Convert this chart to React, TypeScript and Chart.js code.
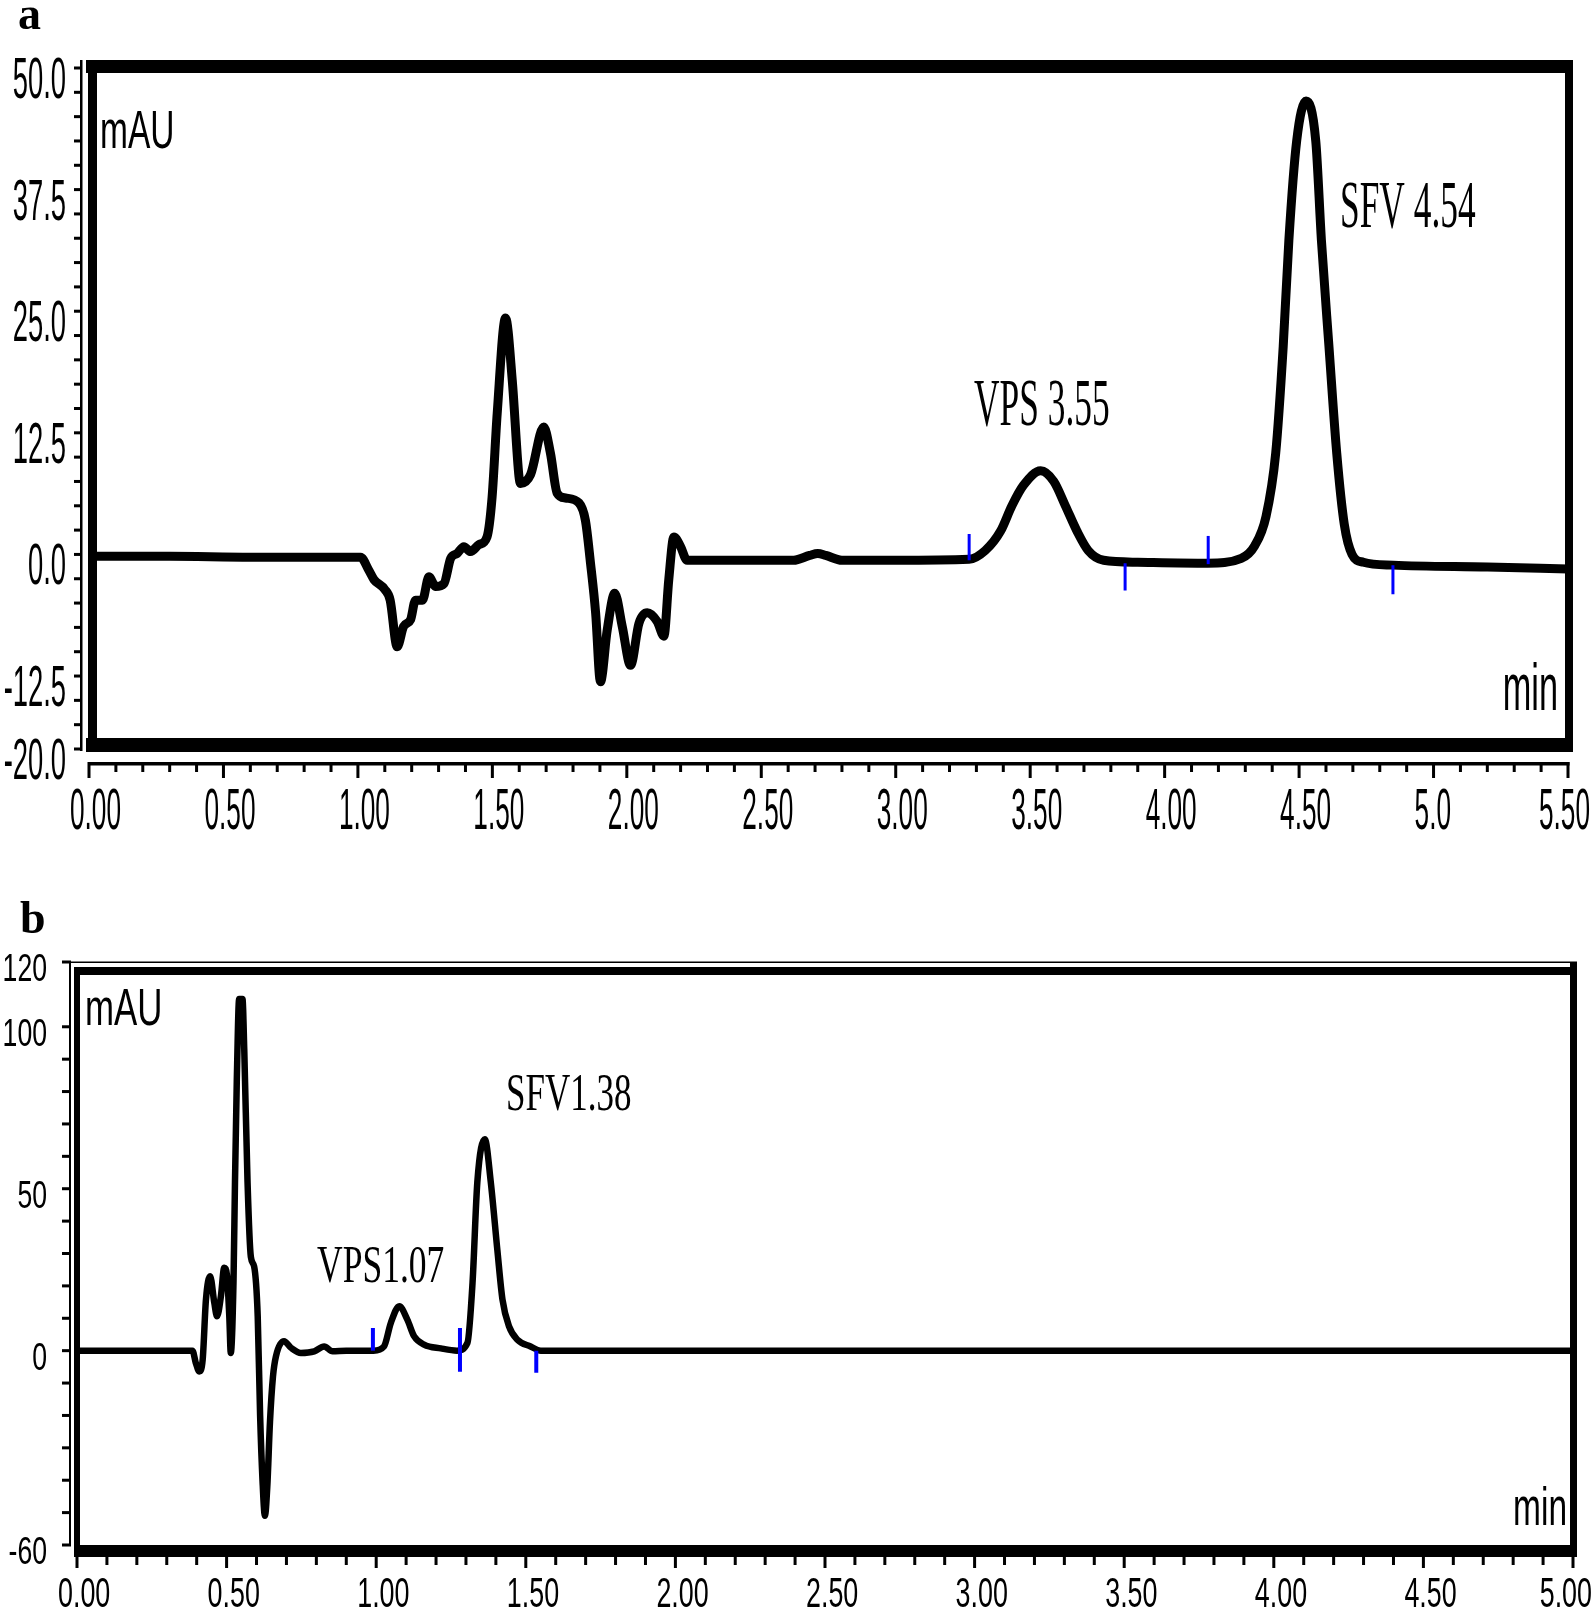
import React, { useEffect, useRef } from "react";
import { Chart, registerables } from "chart.js";

Chart.register(...registerables);

const SANS = "'Liberation Sans', Arial, sans-serif";
const SERIF = "'Liberation Serif', 'Times New Roman', serif";

// ---------------- Panel a ----------------
const timeA = [
  0.0, 0.3, 0.6, 0.9, 1.01, 1.04, 1.06, 1.1, 1.12, 1.146, 1.17, 1.196, 1.214, 1.24, 1.264, 1.289, 1.32,
  1.345, 1.369, 1.394, 1.419, 1.45, 1.48, 1.499, 1.518, 1.549, 1.574, 1.599, 1.605, 1.642, 1.691, 1.716,
  1.741, 1.772, 1.822, 1.846, 1.865, 1.884, 1.902, 1.927, 1.955, 1.983, 2.014, 2.045, 2.076, 2.113, 2.138,
  2.156, 2.175, 2.2, 2.224, 2.4, 2.62, 2.68, 2.71, 2.74, 2.8, 3.0, 3.273, 3.333, 3.39, 3.432, 3.475, 3.539,
  3.588, 3.631, 3.674, 3.716, 3.773, 3.9, 4.16, 4.285, 4.335, 4.377, 4.413, 4.441, 4.462, 4.491, 4.526,
  4.562, 4.583, 4.611, 4.64, 4.668, 4.697, 4.739, 4.85, 5.2, 5.5,
];
const signalA = [
  -0.2, -0.2, -0.3, -0.3, -0.3, -1.6, -2.6, -3.6, -4.7, -9.5, -7.4, -6.7, -4.7, -4.7, -2.3, -3.3, -3.0,
  -0.4, 0.1, 0.8, 0.3, 1.0, 1.8, 5.9, 14.5, 24.3, 17.9, 8.0, 7.3, 8.2, 13.1, 10.4,
  6.3, 5.8, 5.3, 3.5, -0.9, -6.0, -13.1, -7.8, -4.0, -7.4, -11.4, -7.1, -6.0, -6.9, -8.4,
  -2.6, 1.8, 0.8, -0.6, -0.6, -0.6, -0.1, 0.1, -0.1, -0.6, -0.6, -0.5, 0.4, 2.4, 5.0, 7.1, 8.6,
  7.5, 5.0, 2.4, 0.4, -0.6, -0.8, -0.9, -0.4, 0.9, 3.9, 10.4, 21.4, 32.3, 42.5, 46.6,
  42.5, 32.3, 21.4, 10.4, 3.1, 0.0, -0.8, -1.1, -1.3, -1.5,
];
const markerTimeA = [3.273, 3.853, 4.162, 4.849];
const markerFromA = [-0.6, -0.9, -1.0, -1.1];
const markerToA = [2.1, -3.7, 1.9, -4.1];
const yTickValuesA = [50, 37.5, 25, 12.5, 0, -12.5, -20];
const yTickLabelsA = ["50.0", "37.5", "25.0", "12.5", "0.0", "-12.5", "-20.0"];
const xTickValuesA = [0, 0.5, 1, 1.5, 2, 2.5, 3, 3.5, 4, 4.5, 5, 5.5];
const xTickLabelsA = ["0.00", "0.50", "1.00", "1.50", "2.00", "2.50", "3.00", "3.50", "4.00", "4.50", "5.0", "5.50"];
const peakLabelsA = ["VPS 3.55", "SFV 4.54"];

// ---------------- Panel b ----------------
const timeB = [
  0.0, 0.3, 0.386, 0.397, 0.409, 0.42, 0.431, 0.445, 0.459, 0.468, 0.481, 0.492, 0.501, 0.509, 0.514,
  0.523, 0.528, 0.534, 0.542, 0.553, 0.559, 0.57, 0.581, 0.592, 0.604, 0.612, 0.62, 0.628, 0.636, 0.645,
  0.655, 0.665, 0.692, 0.715, 0.748, 0.793, 0.826, 0.854, 0.9, 0.991, 1.026, 1.049, 1.077, 1.104, 1.127,
  1.16, 1.216, 1.27, 1.305, 1.322, 1.338, 1.363, 1.383, 1.405, 1.422, 1.444, 1.472, 1.516, 1.55, 2.5, 5.0,
];
const signalB = [
  0, 0, 0, -3.8, -6.4, -2.8, 15.8, 23, 14.7, 10.6, 16.8, 25.6, 23.5, 10.6, -0.7,
  21, 52, 83, 108.6, 108.6, 93, 52, 29, 26, 10.6, -20, -40, -51, -42, -22,
  -8, -1.7, 2.9, 0.9, -0.7, -0.2, 1.3, -0.2, 0, 0, 1.3, 8.6, 13.7, 9.6, 4.4,
  1.9, 0.7, 0, 2.4, 21, 52, 65.3, 52, 31, 15.8, 7.5, 3.4, 1.3, 0, 0, 0,
];
const markerTimeB = [0.989, 1.28, 1.535];
const markerFromB = [0, 7, 0];
const markerToB = [7, -6.5, -6.8];
const yTickValuesB = [120, 100, 50, 0, -60];
const yTickLabelsB = ["120", "100", "50", "0", "-60"];
const xTickValuesB = [0, 0.5, 1, 1.5, 2, 2.5, 3, 3.5, 4, 4.5, 5];
const xTickLabelsB = ["0.00", "0.50", "1.00", "1.50", "2.00", "2.50", "3.00", "3.50", "4.00", "4.50", "5.00"];
const peakLabelsB = ["VPS1.07", "SFV1.38"];

// ---------------- helpers ----------------
function drawText(
  ctx: CanvasRenderingContext2D,
  text: string,
  x: number,
  y: number,
  font: string,
  sx: number,
  align: "left" | "right" | "center",
  maxRight?: number
) {
  ctx.save();
  ctx.font = font;
  const w = ctx.measureText(text).width * sx;
  let left = align === "left" ? x : align === "right" ? x - w : x - w / 2;
  if (maxRight !== undefined && left + w > maxRight) left = maxRight - w;
  ctx.translate(left, y);
  ctx.scale(sx, 1);
  ctx.textAlign = "left";
  ctx.textBaseline = "alphabetic";
  ctx.fillStyle = "#000";
  ctx.fillText(text, 0, 0);
  ctx.restore();
}

function decorA(chart: any) {
  const ctx: CanvasRenderingContext2D = chart.ctx;
  const xs = chart.scales.x;
  const ys = chart.scales.y;
  ctx.save();
  ctx.fillStyle = "#000";
  // frame
  ctx.fillRect(86, 60, 1573 - 86, 13);
  ctx.fillRect(86, 738, 1573 - 86, 14);
  ctx.fillRect(88, 60, 9, 692);
  ctx.fillRect(1565, 60, 8, 692);
  // y axis
  ctx.fillRect(80, 60, 2.5, 691);
  for (let k = 0; k <= 28; k++) {
    const v = -20 + k * 2.5;
    const py = ys.getPixelForValue(v);
    ctx.fillRect(74, py - 1.5, 8, 3);
  }
  // x axis
  ctx.fillRect(xs.left, 762, xs.right - xs.left + 1.5, 3.5);
  for (let k = 0; k <= 55; k++) {
    const px = xs.getPixelForValue(k / 10);
    const major = k % 5 === 0;
    ctx.fillRect(px - 1.5, 762, 3, major ? 16 : 10);
  }
  ctx.restore();
  const tickFont = `57px ${SANS}`;
  yTickValuesA.forEach((v, i) => {
    drawText(ctx, yTickLabelsA[i], 66, ys.getPixelForValue(v) + 30, tickFont, 0.48, "right");
  });
  xTickValuesA.forEach((v, i) => {
    drawText(ctx, xTickLabelsA[i], xs.getPixelForValue(v) - 19, 829, tickFont, 0.46, "left", 1590);
  });
  drawText(ctx, "mAU", 100, 148, `54px ${SANS}`, 0.62, "left");
  drawText(ctx, "min", 1558, 710, `66px ${SANS}`, 0.52, "right");
  drawText(ctx, peakLabelsA[0], 974, 425, `68px ${SERIF}`, 0.52, "left");
  drawText(ctx, peakLabelsA[1], 1340, 227, `68px ${SERIF}`, 0.52, "left");
  drawText(ctx, "a", 18, 29, `bold 46px ${SERIF}`, 1, "left");
}

function decorB(chart: any) {
  const ctx: CanvasRenderingContext2D = chart.ctx;
  const xs = chart.scales.x;
  const ys = chart.scales.y;
  ctx.save();
  ctx.fillStyle = "#000";
  // frame
  ctx.fillRect(68, 111.5, 1577 - 68, 1.5);
  ctx.fillRect(74, 117, 1577 - 74, 8);
  ctx.fillRect(74, 117, 6, 707 - 117);
  ctx.fillRect(1570, 112, 7, 707 - 112);
  ctx.fillRect(74, 695, 1577 - 74, 12);
  // y axis
  ctx.fillRect(69, 112, 2, 584);
  const yTicks = [120];
  for (let v = 100; v >= -60; v -= 10) yTicks.push(v);
  yTicks.forEach((v) => {
    const py = ys.getPixelForValue(v);
    ctx.fillRect(62, py - 1.5, 9, 3);
  });
  // x ticks
  for (let k = 0; k <= 50; k++) {
    const px = xs.getPixelForValue(k / 10);
    const major = k % 5 === 0;
    ctx.fillRect(px - 1.5, 706, 3, major ? 12 : 9);
  }
  ctx.restore();
  yTickValuesB.forEach((v, i) => {
    drawText(ctx, yTickLabelsB[i], 47, ys.getPixelForValue(v) + 19, `38px ${SANS}`, 0.7, "right");
  });
  xTickValuesB.forEach((v, i) => {
    drawText(ctx, xTickLabelsB[i], xs.getPixelForValue(v) - 19, 757, `42px ${SANS}`, 0.64, "left", 1592);
  });
  drawText(ctx, "mAU", 85, 175, `52px ${SANS}`, 0.67, "left");
  drawText(ctx, "min", 1567, 675, `54px ${SANS}`, 0.62, "right");
  drawText(ctx, peakLabelsB[0], 317, 432, `53px ${SERIF}`, 0.67, "left");
  drawText(ctx, peakLabelsB[1], 506, 260, `53px ${SERIF}`, 0.66, "left");
  drawText(ctx, "b", 20, 83, `bold 46px ${SERIF}`, 1, "left");
}

type PanelOpts = {
  time: number[];
  signal: number[];
  markerTime: number[];
  markerFrom: number[];
  markerTo: number[];
  lineWidth: number;
  markerWidth: number;
  xMin: number;
  xMax: number;
  yMin: number;
  yMax: number;
  padding: { left: number; right: number; top: number; bottom: number };
  decor: (chart: any) => void;
};

function makeChart(canvas: HTMLCanvasElement, o: PanelOpts) {
  const trace = o.time.map((t, i) => ({ x: t, y: o.signal[i] }));
  const markers = o.markerTime.map((t, i) => ({
    data: [
      { x: t, y: o.markerFrom[i] },
      { x: t, y: o.markerTo[i] },
    ],
    borderColor: "#0000ff",
    borderWidth: o.markerWidth,
    pointRadius: 0,
    borderCapStyle: "butt" as const,
    order: 1,
  }));
  return new Chart(canvas, {
    type: "line",
    data: {
      datasets: [
        {
          data: trace,
          borderColor: "#000000",
          borderWidth: o.lineWidth,
          pointRadius: 0,
          cubicInterpolationMode: "monotone",
          borderJoinStyle: "round",
          borderCapStyle: "round",
          order: 2,
        } as any,
        ...markers,
      ],
    },
    options: {
      animation: false,
      responsive: false,
      maintainAspectRatio: false,
      devicePixelRatio: 1,
      events: [],
      layout: { padding: o.padding },
      scales: {
        x: { type: "linear", min: o.xMin, max: o.xMax, display: false },
        y: { type: "linear", min: o.yMin, max: o.yMax, display: false },
      },
      plugins: { legend: { display: false }, tooltip: { enabled: false } },
    },
    plugins: [{ id: "decor", afterDraw: (c: any) => o.decor(c) }],
  });
}

function Panel({ opts, width, height, top }: { opts: PanelOpts; width: number; height: number; top: number }) {
  const ref = useRef<HTMLCanvasElement>(null);
  useEffect(() => {
    if (!ref.current) return;
    const chart = makeChart(ref.current, opts);
    return () => chart.destroy();
  }, []);
  return (
    <canvas
      ref={ref}
      width={width}
      height={height}
      style={{ position: "absolute", left: 0, top, width, height, display: "block" }}
    />
  );
}

const optsA: PanelOpts = {
  time: timeA,
  signal: signalA,
  markerTime: markerTimeA,
  markerFrom: markerFromA,
  markerTo: markerToA,
  lineWidth: 9,
  markerWidth: 3,
  xMin: 0,
  xMax: 5.5,
  yMin: -20,
  yMax: 50,
  padding: { left: 89, right: 27, top: 68, bottom: 101 },
  decor: decorA,
};

const optsB: PanelOpts = {
  time: timeB,
  signal: signalB,
  markerTime: markerTimeB,
  markerFrom: markerFromB,
  markerTo: markerToB,
  lineWidth: 6.5,
  markerWidth: 4,
  xMin: 0,
  xMax: 5,
  yMin: -60,
  yMax: 120,
  padding: { left: 77, right: 22, top: 112, bottom: 66 },
  decor: decorB,
};

export default function App() {
  return (
    <div
      style={{
        position: "absolute",
        left: 0,
        top: 0,
        width: 1595,
        height: 1611,
        background: "#ffffff",
        overflow: "hidden",
      }}
    >
      <Panel opts={optsA} width={1595} height={850} top={0} />
      <Panel opts={optsB} width={1595} height={761} top={850} />
    </div>
  );
}
